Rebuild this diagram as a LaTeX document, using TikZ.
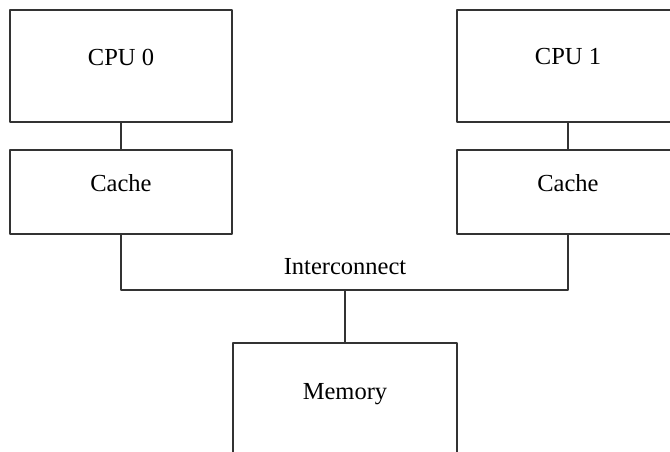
\documentclass[tikz,border=0pt]{standalone}
\usepackage{fontspec}
\setmainfont{Liberation Serif}
\begin{document}
\begin{tikzpicture}[x=1pt,y=1pt,line join=round,line width=1.3pt,
  font=\fontsize{24.5}{28}\selectfont,
  unit/.style={draw=black!80,minimum width=222pt,minimum height=112pt,inner sep=0pt},
  cachebox/.style={unit,minimum height=84pt}]
	\useasboundingbox (0,0) rectangle (670,-452);
	\node[unit,label={[yshift=9pt]center:CPU 0}] (cpu0) at (121,-66) {};
	\node[cachebox,label={[yshift=9pt]center:Cache}] (cache0) at (121,-192) {};
	\node[unit,label={[yshift=9pt]center:CPU 1}] (cpu1) at (568,-66) {};
	\node[cachebox,label={[yshift=9pt]center:Cache}] (cache1) at (568,-192) {};
	\node[unit,minimum width=224pt,label={[yshift=5pt]center:Memory}] (mem) at (345,-399) {};
	\node (ic) at (345,-267) {Interconnect};
	\coordinate (bus) at (345,-290);
	\draw[black!80] (cpu0) -- (cache0);
	\draw[black!80] (cpu1) -- (cache1);
	\draw[black!80] (cache0) |- (bus) -| (cache1);
	\draw[black!80] (bus) -- (mem);
\end{tikzpicture}
\end{document}
